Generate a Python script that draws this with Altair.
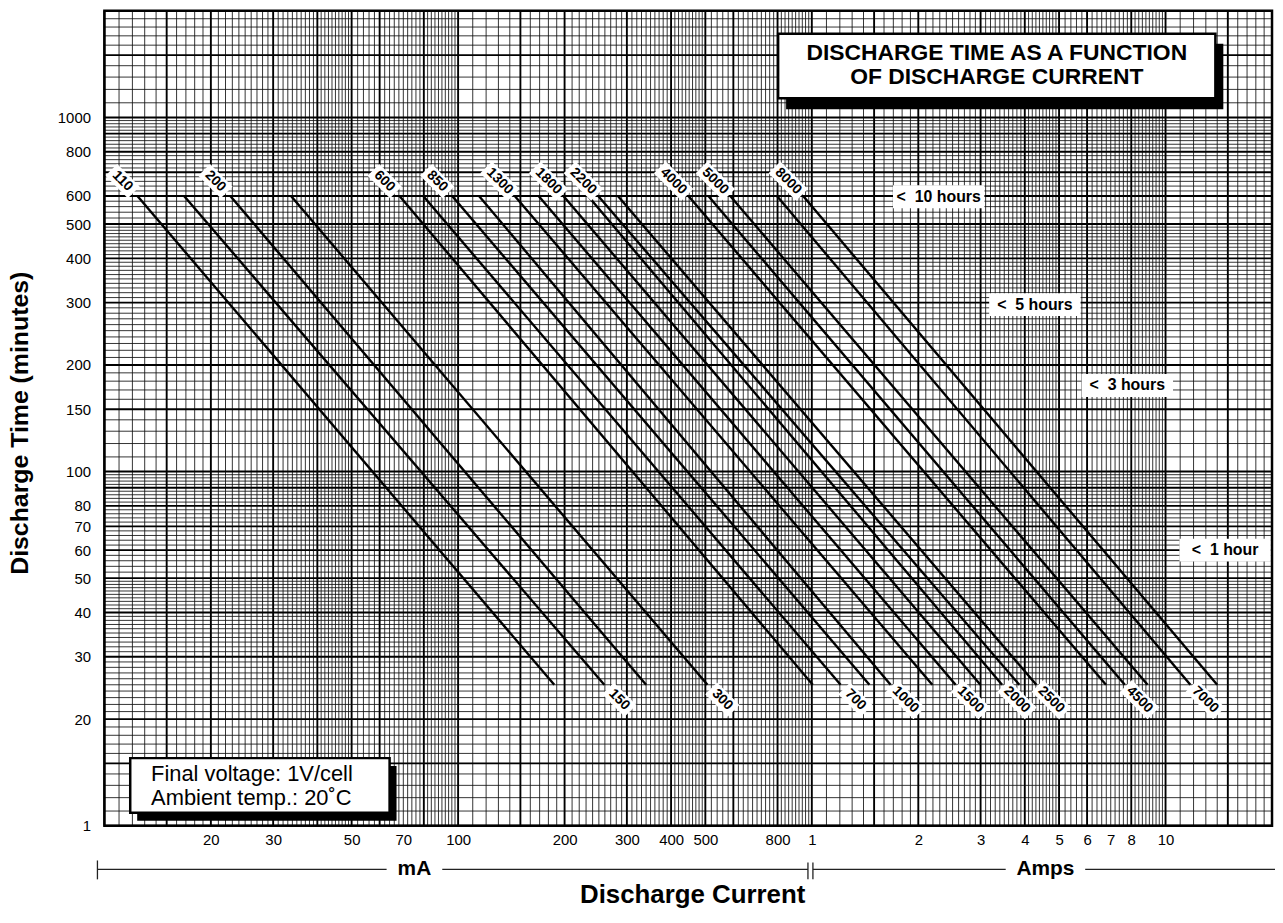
import altair as alt
import numpy as np
import pandas as pd

FONT = "Liberation Sans, Arial, Helvetica, sans-serif"

# ---------------- data ----------------
capacities = [110, 150, 200, 300, 600, 700, 850, 1000, 1300, 1500, 1800,
              2000, 2200, 2500, 4000, 4500, 5000, 7000, 8000]
current_at_600min = [12.4, 16.8, 22.7, 33.7, 68.3, 79.7, 96.2, 114.6, 144.6, 168.9,
                     198.5, 233, 249, 283, 448, 510, 588, 797, 945]
current_at_25min = [187, 259, 340, 507, 1006, 1206, 1455, 1670, 2191, 2550,
                    2997, 3450, 3860, 4313, 6785, 7671, 8898, 11755, 13996]
time_start = 600
time_end = 25
top_labelled = [110, 200, 600, 850, 1300, 1800, 2200, 4000, 5000, 8000]

x_tick_values = [20, 30, 50, 70, 100, 200, 300, 400, 500, 800,
                 1000, 2000, 3000, 4000, 5000, 6000, 7000, 8000, 10000]
y_tick_values = [10, 20, 30, 40, 50, 60, 70, 80, 100, 150, 200,
                 300, 400, 500, 600, 800, 1000]

hour_text = ["<\u00a0 10 hours", "<\u00a0 5 hours", "<\u00a0 3 hours", "<\u00a0 1 hour"]
hour_current = [2284, 4272, 7797, 14740]
hour_time = [597, 296, 175, 60]

X_DOMAIN = [10, 20000]
Y_DOMAIN = [10, 2000]

W, H = 1175, 820

# ---------------- tables ----------------
rows = []
for c, a, b in zip(capacities, current_at_600min, current_at_25min):
    rows.append({"capacity": c, "current": a, "time": time_start})
    rows.append({"capacity": c, "current": b, "time": time_end})
lines_df = pd.DataFrame(rows)

lab_rows = []
for c, a, b in zip(capacities, current_at_600min, current_at_25min):
    if c in top_labelled:
        lab_rows.append({"label": str(c), "current": a, "time": time_start, "pos": "top"})
    else:
        lab_rows.append({"label": str(c), "current": b, "time": time_end, "pos": "bottom"})
lab_df = pd.DataFrame(lab_rows)

hour_df = pd.DataFrame({"text": hour_text, "current": hour_current, "time": hour_time})


def paper(lo, hi, thick_set):
    ms = np.concatenate([np.arange(1, 5, 0.1), np.arange(5, 10, 0.2)])
    thin, thick = [], []
    d = 10.0 ** np.floor(np.log10(lo))
    while d <= hi:
        for m in ms:
            mm = round(float(m), 2)
            v = mm * d
            if v < lo - 1e-9 or v > hi + 1e-9:
                continue
            (thick if mm in thick_set else thin).append(v)
        d *= 10
    return pd.DataFrame({"v": thin}), pd.DataFrame({"v": thick})


xthin, xthick = paper(X_DOMAIN[0], X_DOMAIN[1], {1.0, 1.5, 2.0, 3.0, 4.0, 5.0, 6.0, 8.0})
ythin, ythick = paper(Y_DOMAIN[0], Y_DOMAIN[1], {1.0, 1.5, 2.0, 3.0, 4.0, 5.0, 6.0, 7.0, 8.0, 9.0})

xscale = alt.Scale(type="log", domain=X_DOMAIN, nice=False)
yscale = alt.Scale(type="log", domain=Y_DOMAIN, nice=False)

xaxis = alt.Axis(values=x_tick_values, ticks=False, domain=False, grid=False,
                 labelPadding=7, labelFontSize=15, labelFont=FONT, labelColor="black",
                 labelOverlap=False, labelFlush=False, title=None,
                 labelExpr="datum.value >= 1000 ? format(datum.value/1000, 'd') : format(datum.value, 'd')")
yaxis = alt.Axis(values=y_tick_values, ticks=False, domain=False, grid=False,
                 labelPadding=14, labelFontSize=15, labelFont=FONT, labelColor="black",
                 labelOverlap=False, labelFlush=False, title=None,
                 labelExpr="datum.value == 10 ? '1' : format(datum.value, 'd')")


def X(field):
    return alt.X(field, scale=xscale, axis=xaxis)


def Y(field):
    return alt.Y(field, scale=yscale, axis=yaxis)


one = pd.DataFrame({"a": [0]})

layers = []
layers.append(alt.Chart(xthin).mark_rule(color="#111111", strokeWidth=0.85).encode(x=X("v:Q")))
layers.append(alt.Chart(ythin).mark_rule(color="#111111", strokeWidth=0.85).encode(y=Y("v:Q")))
layers.append(alt.Chart(xthick).mark_rule(color="black", strokeWidth=1.9).encode(x=X("v:Q")))
layers.append(alt.Chart(ythick).mark_rule(color="black", strokeWidth=1.9).encode(y=Y("v:Q")))

layers.append(alt.Chart(lines_df).mark_line(color="black", strokeWidth=2.4).encode(
    x=X("current:Q"), y=Y("time:Q"), detail="capacity:N"))

RECT3 = "M-0.8,-0.42L0.8,-0.42L0.8,0.42L-0.8,0.42Z"
RECT4 = "M-0.98,-0.42L0.98,-0.42L0.98,0.42L-0.98,0.42Z"
for pos, off in (("top", -15), ("bottom", 15)):
    for nd, shp in ((3, RECT3), (4, RECT4)):
        layers.append(alt.Chart(lab_df).transform_calculate(nd="length(datum.label)")
                      .transform_filter(f"datum.pos == '{pos}' && datum.nd == {nd}")
                      .mark_point(shape=shp, size=1600, angle=45, filled=True, color="white",
                                  opacity=1, strokeWidth=0, xOffset=off, yOffset=off)
                      .encode(x=X("current:Q"), y=Y("time:Q")))
    layers.append(alt.Chart(lab_df).transform_filter(f"datum.pos == '{pos}'")
                  .mark_text(angle=45, font=FONT, fontSize=14, fontWeight="bold", color="black",
                             align="center", baseline="middle", xOffset=off, yOffset=off)
                  .encode(x=X("current:Q"), y=Y("time:Q"), text="label:N"))

layers.append(alt.Chart(hour_df).mark_rect(width=92, height=23, color="white", opacity=1).encode(
    x=X("current:Q"), y=Y("time:Q")))
layers.append(alt.Chart(hour_df).mark_text(font=FONT, fontSize=16, fontWeight="bold", color="black",
                                            align="center", baseline="middle").encode(
    x=X("current:Q"), y=Y("time:Q"), text="text:N"))


def box(x1, x2, y1, y2, **kw):
    return alt.Chart(one).mark_rect(**kw).encode(
        x=alt.value(x1), x2=alt.value(x2), y=alt.value(y1), y2=alt.value(y2))


def txt(x, y, s, **kw):
    return alt.Chart(one).mark_text(font=FONT, color="black", **kw).encode(
        x=alt.value(x), y=alt.value(y), text=alt.value(s))


def hline(x1, x2, y):
    return alt.Chart(one).mark_rule(color="#222222", strokeWidth=1.3).encode(
        x=alt.value(x1), x2=alt.value(x2), y=alt.value(y))


def vline(x, y1, y2):
    return alt.Chart(one).mark_rule(color="#222222", strokeWidth=1.3).encode(
        x=alt.value(x), y=alt.value(y1), y2=alt.value(y2))


# title box
layers.append(box(686, 1126, 33, 99, color="black"))
layers.append(box(678, 1118, 23, 88, fill="white", stroke="black", strokeWidth=2.5))
layers.append(txt(898, 42, "DISCHARGE TIME AS A FUNCTION", fontSize=23, fontWeight="bold",
                  align="center", baseline="middle"))
layers.append(txt(898, 67, "OF DISCHARGE CURRENT", fontSize=23, fontWeight="bold",
                  align="center", baseline="middle"))

# note box
layers.append(box(33, 294, 760, 815, color="black"))
layers.append(box(26, 287, 752, 807, fill="white", stroke="black", strokeWidth=2.5))
layers.append(txt(47, 768, "Final voltage: 1V/cell", fontSize=22, align="left", baseline="middle"))
layers.append(txt(47, 792, "Ambient temp.: 20\u02daC", fontSize=22, align="left", baseline="middle"))

# frame
layers.append(box(0, W, 0, H, fill="white", fillOpacity=0, stroke="black", strokeWidth=2.5))

# bracket under x axis
layers.append(vline(-7, 855, 874))
layers.append(hline(-7, 284, 864))
layers.append(hline(340, 708, 864))
layers.append(vline(708, 857, 874))
layers.append(vline(713, 857, 874))
layers.append(hline(713, 907, 864))
layers.append(hline(987, 1178, 864))
layers.append(txt(312, 864, "mA", fontSize=21, fontWeight="bold", align="center", baseline="middle"))
layers.append(txt(947, 864, "Amps", fontSize=21, fontWeight="bold", align="center", baseline="middle"))

# axis titles
layers.append(txt(592, 890, "Discharge Current", fontSize=26, fontWeight="bold",
                  align="center", baseline="middle"))
layers.append(txt(-85, 415, "Discharge Time (minutes)", fontSize=25, fontWeight="bold",
                  align="center", baseline="middle", angle=270))

chart = alt.layer(*layers).properties(
    width=W, height=H,
    padding={"left": 97, "top": 0, "right": 3, "bottom": 85},
    autosize=alt.AutoSizeParams(type="none"),
    background="white",
).configure_view(stroke="transparent")

chart.save("out.html", embed_options={"renderer": "svg", "actions": False})
